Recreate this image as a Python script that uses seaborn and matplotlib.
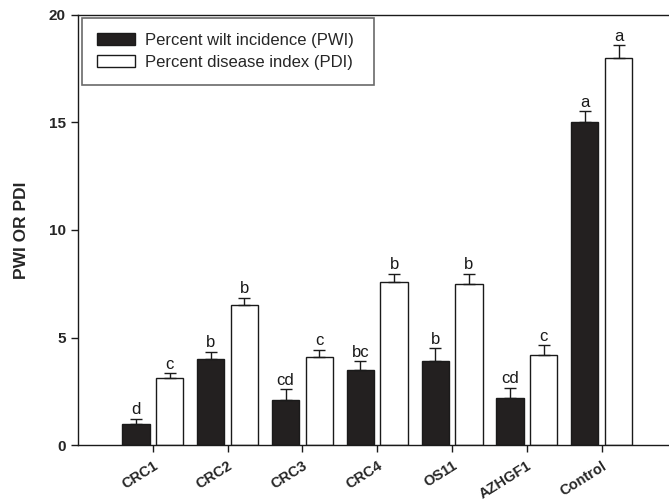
import matplotlib
matplotlib.use("Agg")
import matplotlib.pyplot as plt
import seaborn as sns
import pandas as pd

# Treatments and measured disease parameters
treatments = ["CRC1", "CRC2", "CRC3", "CRC4", "OS11", "AZHGF1", "Control"]
pwi_label = "Percent wilt incidence (PWI)"
pdi_label = "Percent disease index (PDI)"

pwi_mean = [1.0, 4.0, 2.1, 3.5, 3.9, 2.2, 15.0]
pwi_err = [0.23, 0.34, 0.50, 0.39, 0.60, 0.47, 0.52]
pwi_letters = ["d", "b", "cd", "bc", "b", "cd", "a"]

pdi_mean = [3.1, 6.5, 4.1, 7.57, 7.5, 4.2, 18.0]
pdi_err = [0.25, 0.36, 0.33, 0.40, 0.47, 0.45, 0.60]
pdi_letters = ["c", "b", "c", "b", "b", "c", "a"]

yticks = [0, 5, 10, 15, 20]

df = pd.DataFrame({
    "Treatment": treatments * 2,
    "Measure": [pwi_label] * len(treatments) + [pdi_label] * len(treatments),
    "Value": pwi_mean + pdi_mean,
})

sns.set_style("ticks")
plt.rcParams["font.family"] = ["Liberation Sans", "DejaVu Sans"]

fig = plt.figure(figsize=(6.69, 5.03), dpi=100)
ax = fig.add_axes([0.1166, 0.1153, 0.8834, 0.8549])

sns.barplot(
    data=df, x="Treatment", y="Value", hue="Measure",
    order=treatments, hue_order=[pwi_label, pdi_label],
    palette={pwi_label: "#231f20", pdi_label: "white"},
    edgecolor="#1a1a1a", linewidth=1.0,
    width=0.9, gap=0.19, errorbar=None, ax=ax,
)

# Upper-only error bars and significance letters
for container, errs, letters in zip(ax.containers[:2],
                                    [pwi_err, pdi_err],
                                    [pwi_letters, pdi_letters]):
    xs = [b.get_x() + b.get_width() / 2 for b in container]
    hs = [b.get_height() for b in container]
    ax.errorbar(xs, hs, yerr=[[0] * len(errs), errs], fmt="none",
                ecolor="#1a1a1a", elinewidth=1.0, capsize=4, capthick=1.0,
                zorder=3)
    for x, h, e, lab in zip(xs, hs, errs, letters):
        ax.annotate(lab, (x, h + e), xytext=(0, 1.0),
                    textcoords="offset points", ha="center", va="bottom",
                    fontsize=12, color="#1a1a1a")

ax.set_xlim(-1.0, 6.9)
ax.set_ylim(0, 20)
ax.set_yticks(yticks)
ax.set_yticklabels([str(t) for t in yticks], fontsize=11, fontweight="bold")
ax.set_xticks(range(len(treatments)))
ax.set_xticklabels(treatments, fontsize=10.5, fontweight="bold",
                   rotation=32, ha="right", rotation_mode="anchor")
ax.set_xlabel("")
ax.set_ylabel("PWI OR PDI", fontsize=12.5, fontweight="bold", labelpad=14)
ax.tick_params(axis="both", direction="out", length=5, width=1,
               color="#1a1a1a")
ax.tick_params(axis="y", pad=4)
ax.tick_params(axis="x", pad=5)

ax.spines["right"].set_visible(False)
for side in ["left", "bottom", "top"]:
    ax.spines[side].set_color("#1a1a1a")
    ax.spines[side].set_linewidth(1.0)

handles, labels = ax.get_legend_handles_labels()
leg = ax.legend(handles, labels, loc="upper left",
                bbox_to_anchor=(0.007, 0.993, 0.494, 0.0), mode="expand",
                borderaxespad=0, fontsize=12, frameon=True, fancybox=False,
                handlelength=2.3, handleheight=0.72, handletextpad=0.6,
                labelspacing=0.4, borderpad=0.9, title=None)
leg.get_frame().set_edgecolor("#444444")
leg.get_frame().set_linewidth(1.2)
for h in leg.legend_handles:
    h.set_edgecolor("#1a1a1a")
    h.set_linewidth(1.0)

fig.savefig("out.png", dpi=100)
